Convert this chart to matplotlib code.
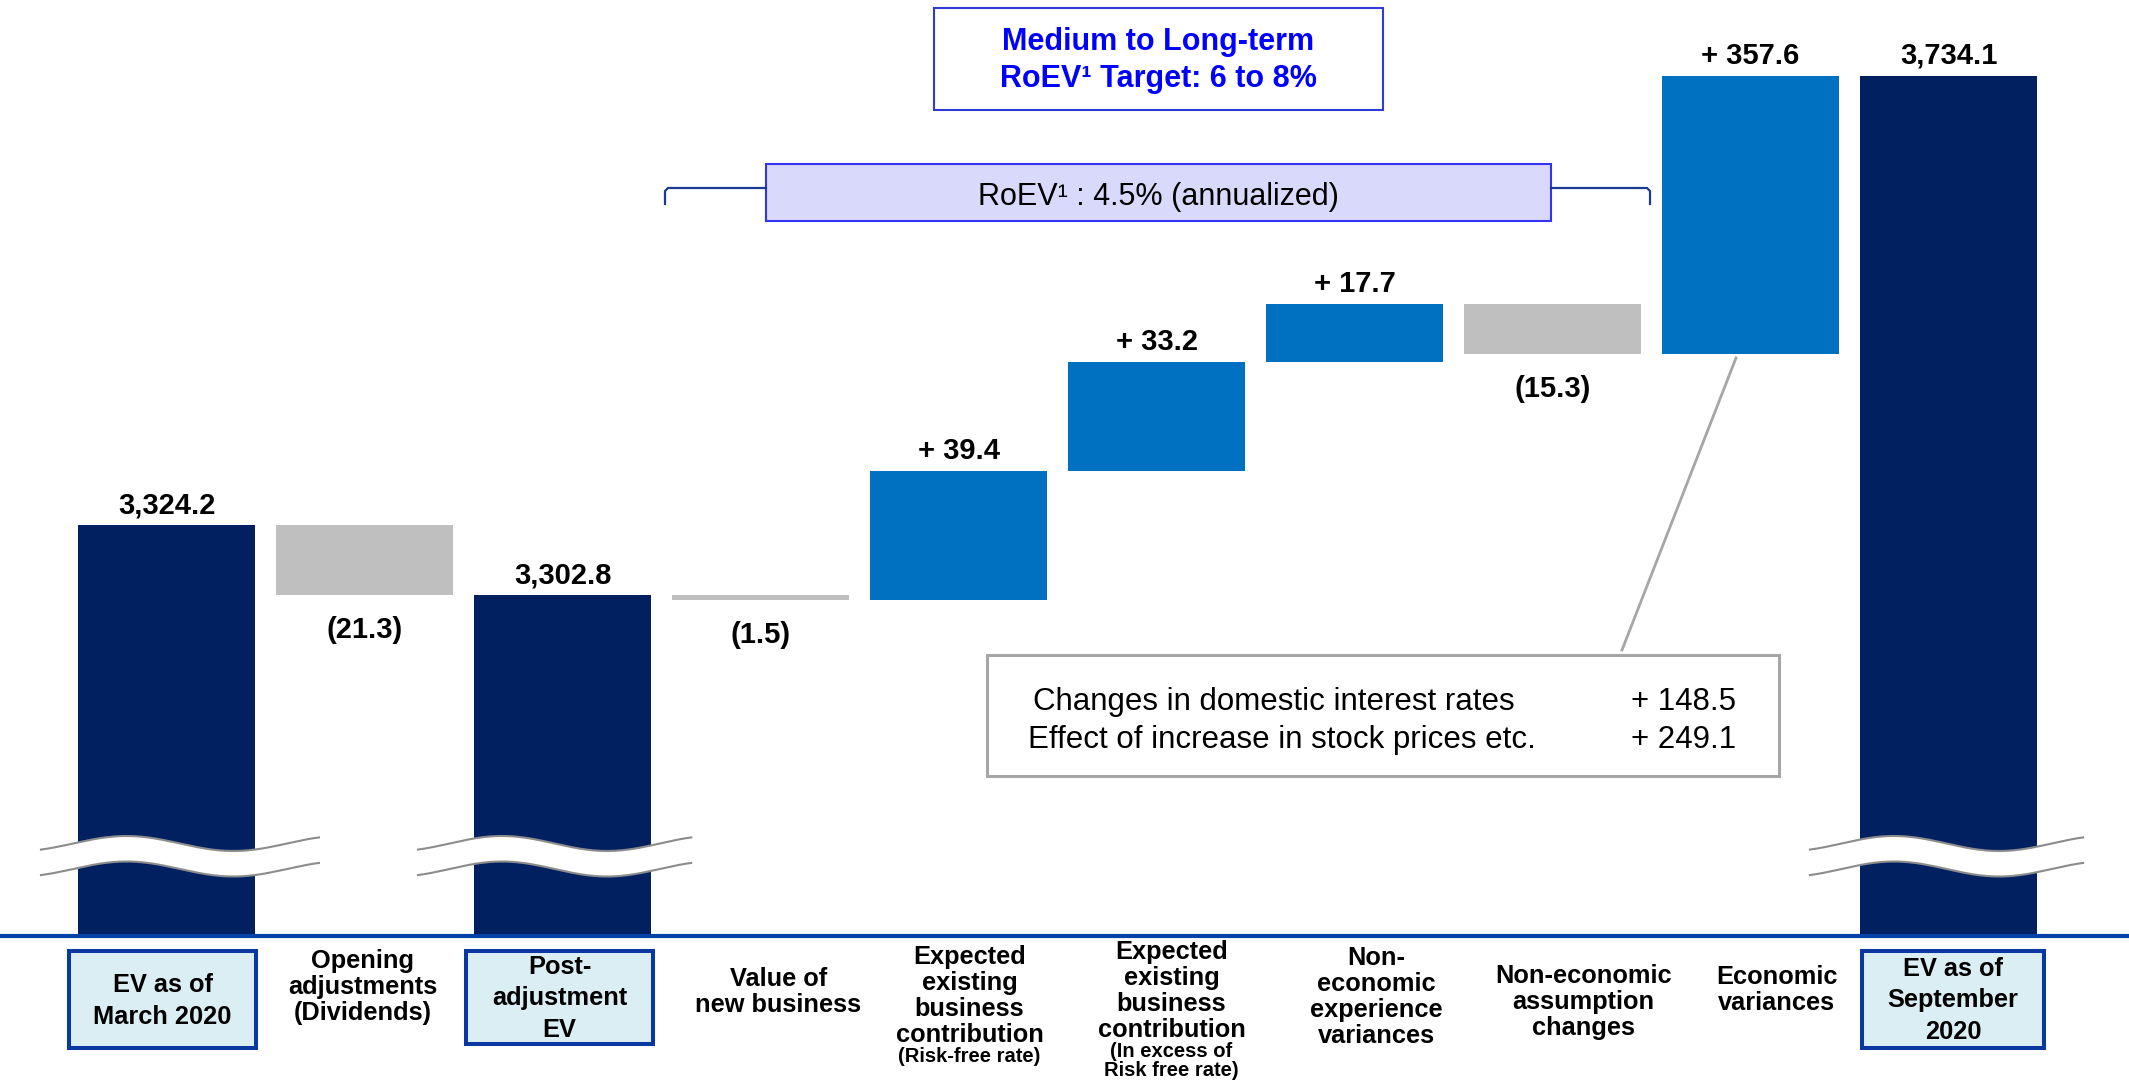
import numpy as np
import matplotlib
matplotlib.use("Agg")
import matplotlib.pyplot as plt
import matplotlib.transforms as mtransforms
from matplotlib.patches import Rectangle
from matplotlib.lines import Line2D

plt.rcParams['font.family'] = ['Liberation Sans', 'DejaVu Sans']

# ---------------- data ----------------
categories = [
    "EV as of\nMarch 2020",
    "Opening\nadjustments\n(Dividends)",
    "Post-\nadjustment\nEV",
    "Value of\nnew business",
    "Expected\nexisting\nbusiness\ncontribution",
    "Expected\nexisting\nbusiness\ncontribution",
    "Non-\neconomic\nexperience\nvariances",
    "Non-economic\nassumption\nchanges",
    "Economic\nvariances",
    "EV as of\nSeptember\n2020",
]
sublabels = ["", "", "", "", "(Risk-free rate)", "(In excess of\nRisk free rate)", "", "", "", ""]
kinds = ["total", "delta", "total", "delta", "delta", "delta", "delta", "delta", "delta", "total"]
values = [3324.2, -21.3, 3302.8, -1.5, 39.4, 33.2, 17.7, -15.3, 357.6, 3734.1]
econ_items = ["Changes in domestic interest rates", "Effect of increase in stock prices etc."]
econ_values = [148.5, 249.1]
target_text = "Medium to Long-term\nRoEV\u00b9 Target: 6 to 8%"
roev_text = "RoEV\u00b9 : 4.5% (annualized)"

# ---------------- style / layout ----------------
W, H, DPI = 2129, 1082, 100
NAVY, BLUE, GRAY = "#002060", "#0070C0", "#BFBFBF"
AXIS_BLUE = "#0042A6"
BOX_FILL, BOX_EDGE = "#DBEEF3", "#0838A0"
PXCAT = 198.0           # pixels per category
AX_BOT = 936            # axes bottom (px from top)

def FX(px):
    return px / W

def FY(py):
    return 1 - py / H

fig = plt.figure(figsize=(W / DPI, H / DPI), dpi=DPI)
ax = fig.add_axes([0, FY(AX_BOT), 1, AX_BOT / H])

# ---------------- waterfall geometry ----------------
bottoms, heights, colors, tops = [], [], [], []
running = 0.0
for k, v in zip(kinds, values):
    if k == "total":
        bottoms.append(0.0); heights.append(v); colors.append(NAVY)
        running = v
    else:
        b = running if v >= 0 else running + v
        bottoms.append(b); heights.append(abs(v))
        colors.append(BLUE if v > 0 else GRAY)
        running += v
    tops.append(bottoms[-1] + heights[-1])

# compressed region above the small steps (as in the original slide)
brk = max(tops[i] for i in range(1, 8))
K = 0.203

def fwd(y):
    y = np.asarray(y, dtype=float)
    return np.where(y <= brk, y, brk + (y - brk) * K)

def inv(y):
    y = np.asarray(y, dtype=float)
    return np.where(y <= brk, y, brk + (y - brk) / K)

ax.set_yscale("function", functions=(fwd, inv))

x = np.arange(len(categories))
ax.bar(x, heights, bottom=bottoms, width=0.894, color=colors, zorder=1, linewidth=0)

# value labels
for i, (k, v) in enumerate(zip(kinds, values)):
    if k == "total":
        txt = f"{v:,.1f}"
        ax.annotate(txt, (i, tops[i]), xytext=(0, 8.6), textcoords="offset points",
                    ha="center", va="baseline", fontsize=21, fontweight="bold")
    elif v > 0:
        txt = f"+ {v:.1f}"
        ax.annotate(txt, (i, tops[i]), xytext=(0, 8.6), textcoords="offset points",
                    ha="center", va="baseline", fontsize=21, fontweight="bold")
    else:
        txt = f"({abs(v):.1f})"
        ax.annotate(txt, (i, bottoms[i]), xytext=(0, -31), textcoords="offset points",
                    ha="center", va="baseline", fontsize=21, fontweight="bold")

# axis breaks (wavy)
trans = mtransforms.blended_transform_factory(ax.transData, fig.transFigure)
wave_ext = {0: (-0.634, 0.77), 2: (-0.73, 0.65), 9: (-0.70, 0.68)}
amp = 7.5 / H
for i, (l, r) in wave_ext.items():
    t = np.linspace(0, 1, 200)
    xs = i + l + (r - l) * t
    s = np.sin(-0.3 * np.pi + 2.6 * np.pi * t)
    yu = FY(843.5) + amp * s
    yl = FY(869.0) + amp * s
    ax.fill(np.concatenate([xs, xs[::-1]]), np.concatenate([yu, yl[::-1]]),
            color="white", transform=trans, zorder=3, clip_on=False, linewidth=0)
    ax.plot(xs, yu, color="#8C8C8C", lw=1.5, transform=trans, zorder=4, clip_on=False)
    ax.plot(xs, yl, color="#8C8C8C", lw=1.5, transform=trans, zorder=4, clip_on=False)

# axes styling
for sp in ["top", "left", "right"]:
    ax.spines[sp].set_visible(False)
ax.spines["bottom"].set_color(AXIS_BLUE)
ax.spines["bottom"].set_linewidth(3.0)
ax.spines["bottom"].set_zorder(5)
ax.set_xticks([])
ax.set_yticks([])
ax.set_yticks([], minor=True)
ax.tick_params(which="both", left=False, labelleft=False, bottom=False, labelbottom=False)
ax.set_facecolor("none")

# ---------------- category labels ----------------
boxed = {0: (-0.492, 0.452, 951, 1048), 2: (-0.487, 0.457, 951, 1044), 9: (-0.437, 0.482, 951, 1048)}
label_dx = [0, -2, 0, 18, 11, 15, 22, 31, 26, 0]
label_base = [993, 970, 975, 986.7, 966.7, 961.7, 968, 985, 985, 976.7]   # first-line baselines
sub_base = {4: 1061.7, 5: 1057.7}
STEP_BOX, STEP_LAB, STEP_SUB = 31.0, 25.0, 18.3

for i, lab in enumerate(categories):
    n = lab.count("\n")
    if i in boxed:
        l, r, yt, yb = boxed[i]
        rect = Rectangle((i + l, FY(yb)), r - l, (yb - yt) / H, transform=trans,
                         facecolor=BOX_FILL, edgecolor=BOX_EDGE, lw=2.9, clip_on=False, zorder=2)
        ax.add_artist(rect)
        ax.text(i + (l + r) / 2, FY(label_base[i] + n * STEP_BOX), lab, transform=trans,
                ha="center", va="baseline", fontsize=18.3, fontweight="bold", linespacing=1.40,
                multialignment="center", zorder=3)
    else:
        xc = i + label_dx[i] / PXCAT
        ax.text(xc, FY(label_base[i] + n * STEP_LAB), lab, transform=trans, ha="center",
                va="baseline", fontsize=18.3, fontweight="bold", linespacing=1.10,
                multialignment="center")
        if sublabels[i]:
            m = sublabels[i].count("\n")
            ax.text(xc, FY(sub_base[i] + m * STEP_SUB), sublabels[i], transform=trans,
                    ha="center", va="baseline", fontsize=14.5, fontweight="bold",
                    linespacing=1.0, multialignment="center")

# ---------------- annotations ----------------
# target box
fig.add_artist(Rectangle((FX(934), FY(110)), FX(1383) - FX(934), (110 - 8) / H,
                         transform=fig.transFigure, facecolor="white", edgecolor="#2F3BD6", lw=1.5))
fig.text(FX(1158.5), FY(87.0), target_text, ha="center", va="baseline", fontsize=22,
         fontweight="bold", color="#0000FF", linespacing=1.29, multialignment="center")

# RoEV bracket + box
for pts in ([(665, 204), (665, 191), (668, 188), (766, 188)],
            [(1551, 188), (1647, 188), (1650, 191), (1650, 204)]):
    xs, ys = zip(*pts)
    fig.add_artist(Line2D([FX(p) for p in xs], [FY(p) for p in ys], transform=fig.transFigure,
                          color="#1B3C8C", lw=1.6, solid_joinstyle="round"))
fig.add_artist(Rectangle((FX(766), FY(221)), FX(1551) - FX(766), (221 - 164) / H,
                         transform=fig.transFigure, facecolor="#D9D9FC", edgecolor="#3333F0", lw=1.5))
fig.text(FX(1158.5), FY(205), roev_text, ha="center", va="baseline", fontsize=22, color="black")

# economic variances callout
fig.add_artist(Line2D([FX(1736), FX(1622)], [FY(358), FY(650)], transform=fig.transFigure,
                      color="#A6A6A6", lw=2.0))
fig.add_artist(Rectangle((FX(987), FY(776)), FX(1779) - FX(987), (776 - 655) / H,
                         transform=fig.transFigure, facecolor="white", edgecolor="#A6A6A6", lw=2.2))
for j, (name, val) in enumerate(zip(econ_items, econ_values)):
    yb = [710, 748.3][j]
    fig.text(FX([1033, 1028][j]), FY(yb), name, ha="left", va="baseline", fontsize=22.5)
    fig.text(FX(1736), FY(yb), f"+ {val:.1f}", ha="right", va="baseline", fontsize=22.5)

# limits
ax.set_xlim(-166.5 / PXCAT, (W - 166.5) / PXCAT)
top_t = 3324.2 + 525 / 3.28
ax.set_ylim(3324.2 - (AX_BOT - 525) / 3.28, float(inv(top_t)))

fig.savefig("out.png", dpi=DPI, facecolor="white")
